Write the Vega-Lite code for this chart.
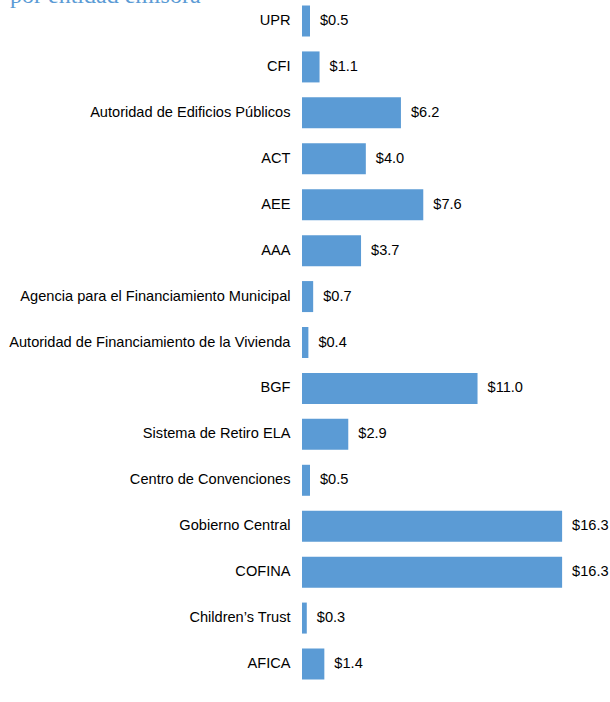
{
  "$schema": "https://vega.github.io/schema/vega-lite/v6.json",
  "autosize": "none",
  "width": 300,
  "height": 683,
  "padding": {"left": 302, "top": 1, "right": 8, "bottom": 18},
  "background": "white",
  "title": {
    "text": "por entidad emisora",
    "anchor": "start",
    "frame": "group",
    "orient": "top",
    "font": "Liberation Serif",
    "fontSize": 24,
    "fontWeight": "normal",
    "color": "#5b9bd5",
    "baseline": "alphabetic",
    "offset": 0,
    "dx": -292,
    "dy": 26
  },
  "data": {
    "values": [
      {"entidad": "UPR", "valor": 0.5},
      {"entidad": "CFI", "valor": 1.1},
      {"entidad": "Autoridad de Edificios Públicos", "valor": 6.2},
      {"entidad": "ACT", "valor": 4.0},
      {"entidad": "AEE", "valor": 7.6},
      {"entidad": "AAA", "valor": 3.7},
      {"entidad": "Agencia para el Financiamiento Municipal", "valor": 0.7},
      {"entidad": "Autoridad de Financiamiento de la Vivienda", "valor": 0.4},
      {"entidad": "BGF", "valor": 11.0},
      {"entidad": "Sistema de Retiro ELA", "valor": 2.9},
      {"entidad": "Centro de Convenciones", "valor": 0.5},
      {"entidad": "Gobierno Central", "valor": 16.3},
      {"entidad": "COFINA", "valor": 16.3},
      {"entidad": "Children’s Trust", "valor": 0.3},
      {"entidad": "AFICA", "valor": 1.4}
    ]
  },
  "encoding": {
    "y": {
      "field": "entidad",
      "type": "nominal",
      "sort": null,
      "scale": {"paddingInner": 0.325, "paddingOuter": 0.098},
      "axis": {
        "title": null,
        "domain": false,
        "ticks": false,
        "labelPadding": 12,
        "labelFont": "Liberation Sans",
        "labelFontSize": 14.6,
        "labelColor": "#000000",
        "labelLimit": 400
      }
    },
    "x": {
      "field": "valor",
      "type": "quantitative",
      "scale": {"domain": [0, 18.8], "nice": false},
      "axis": null
    }
  },
  "layer": [
    {"mark": {"type": "bar", "color": "#5b9bd5"}},
    {
      "mark": {
        "type": "text",
        "align": "left",
        "baseline": "middle",
        "dx": 10,
        "font": "Liberation Sans",
        "fontSize": 14.6,
        "color": "#000000"
      },
      "encoding": {"text": {"field": "valor", "type": "quantitative", "format": "$.1f"}}
    }
  ],
  "config": {"view": {"stroke": null}}
}
